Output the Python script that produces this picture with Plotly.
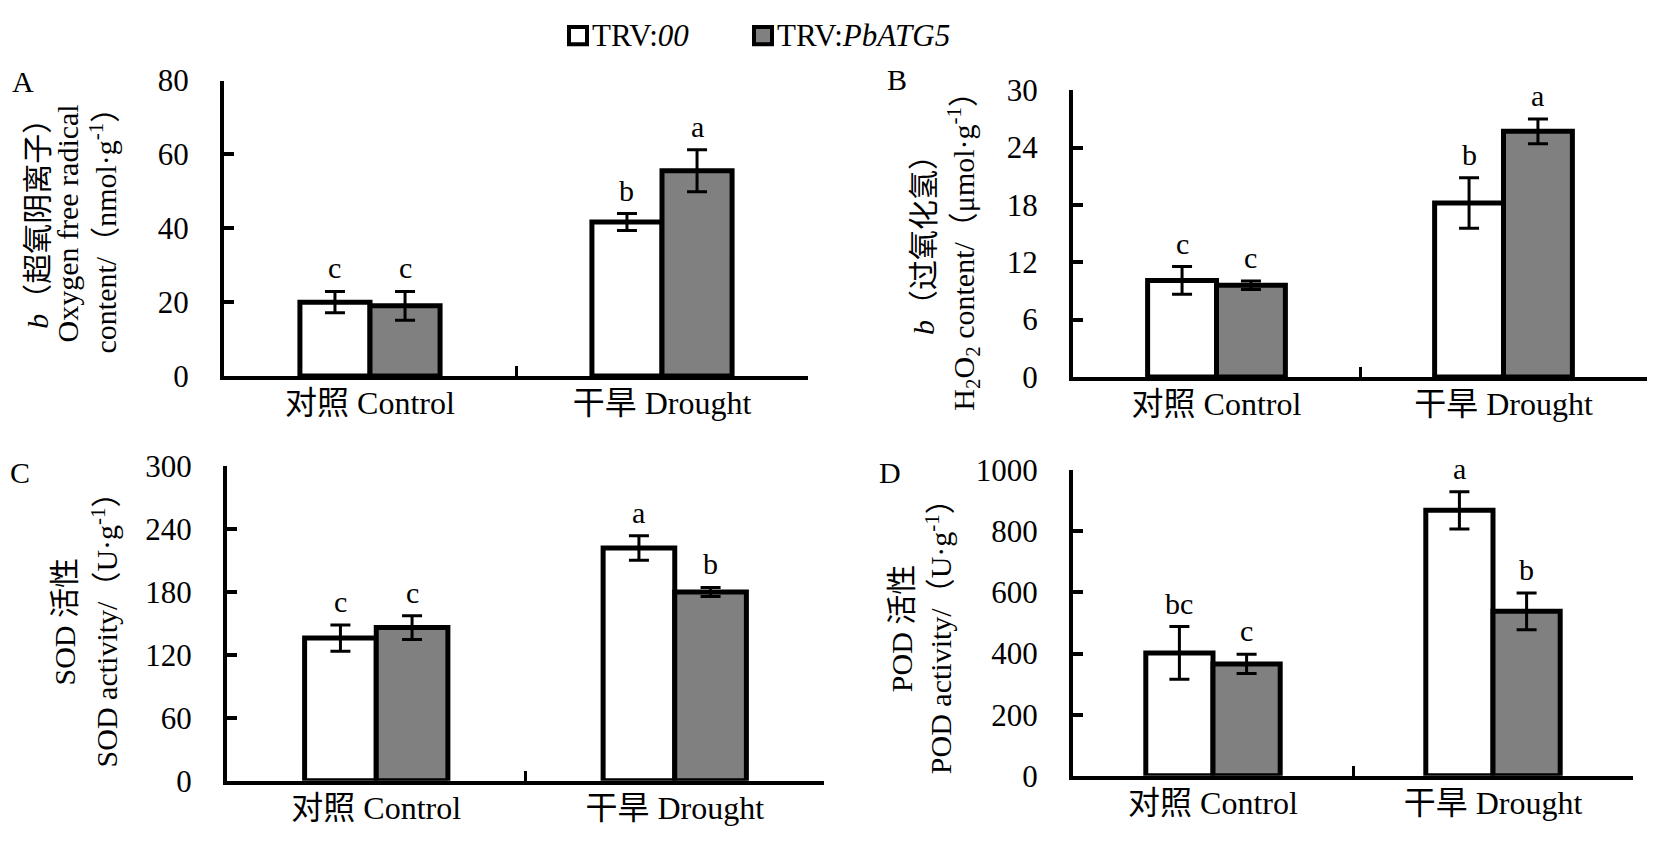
import plotly.graph_objects as go

# categorii si valori (medie +/- eroare)
categories = ["对照 Control", "干旱 Drought"]
series_names = ["TRV:<i>00</i>", "TRV:<i>PbATG5</i>"]

# A - anion superoxid (nmol/g)
a_trv00 = [20.0, 41.7]
a_trv00_err = [2.9, 2.3]
a_atg5 = [19.0, 55.6]
a_atg5_err = [3.9, 5.7]
a_let_trv00 = ["c", "b"]
a_let_atg5 = ["c", "a"]

# B - H2O2 (umol/g)
b_trv00 = [10.1, 18.2]
b_trv00_err = [1.45, 2.65]
b_atg5 = [9.6, 25.7]
b_atg5_err = [0.45, 1.3]
b_let_trv00 = ["c", "b"]
b_let_atg5 = ["c", "a"]

# C - SOD (U/g)
c_trv00 = [136, 222]
c_trv00_err = [12.5, 11.7]
c_atg5 = [146, 180]
c_atg5_err = [11.3, 4.3]
c_let_trv00 = ["c", "a"]
c_let_atg5 = ["c", "b"]

# D - POD (U/g)
d_trv00 = [402, 868]
d_trv00_err = [86, 61]
d_atg5 = [366, 538]
d_atg5_err = [31.5, 60]
d_let_trv00 = ["bc", "a"]
d_let_atg5 = ["c", "b"]

FONT = "Liberation Serif, Noto Sans CJK SC, serif"
W, H = 1657, 853
OFF = 8  # marginea body din pagina html
COLORS = ["white", "#808080"]


def px(x):
    return (x - OFF) / W


def py(y):
    return 1 - (y - OFF) / H


panels = [
    # (sufix axa, date, range y, pas, domeniu x px, domeniu y px)
    ("", a_trv00, a_trv00_err, a_atg5, a_atg5_err, a_let_trv00, a_let_atg5, 80, 20, (224, 808), (66, 374)),
    ("2", b_trv00, b_trv00_err, b_atg5, b_atg5_err, b_let_trv00, b_let_atg5, 30, 6, (1073, 1647), (76, 375)),
    ("3", c_trv00, c_trv00_err, c_atg5, c_atg5_err, c_let_trv00, c_let_atg5, 300, 60, (227, 824), (468, 796)),
    ("4", d_trv00, d_trv00_err, d_atg5, d_atg5_err, d_let_trv00, d_let_atg5, 1000, 200, (1073, 1633), (472, 791)),
]

fig = go.Figure()
annotations = []
shapes = []
layout = {}

for k, (s, v1, e1, v2, e2, l1, l2, ymax, dt, xd, yd) in enumerate(panels):
    xa, ya = "x" + s, "y" + s
    for name, col, v, e in ((series_names[0], COLORS[0], v1, e1), (series_names[1], COLORS[1], v2, e2)):
        fig.add_trace(go.Bar(
            x=categories, y=v, name=name, xaxis=xa, yaxis=ya,
            marker=dict(color=col, line=dict(color="black", width=5)),
            error_y=dict(type="data", array=e, color="black", thickness=3, width=10),
            showlegend=False,
        ))
    layout["xaxis" + s] = dict(
        domain=[px(xd[0]), px(xd[1])], anchor=ya, type="category",
        categoryorder="array", categoryarray=categories,
        showline=True, linewidth=4, linecolor="black",
        ticks="inside", tickson="boundaries", ticklen=10, tickwidth=3, tickcolor="black",
        showgrid=False, zeroline=False, ticklabelstandoff=-4,
        tickfont=dict(family=FONT, size=32, color="black"),
    )
    layout["yaxis" + s] = dict(
        domain=[py(yd[1]), py(yd[0])], anchor=xa,
        range=[0, ymax], dtick=dt, tick0=0,
        showline=True, linewidth=4, linecolor="black",
        ticks="inside", ticklen=10, tickwidth=4, tickcolor="black",
        showgrid=False, zeroline=False, ticklabelstandoff=25,
        tickfont=dict(family=FONT, size=31, color="black"),
    )
    # literele de semnificatie deasupra barelor de eroare
    for i in range(2):
        for off, v, e, l in ((-0.12, v1, e1, l1), (0.12, v2, e2, l2)):
            annotations.append(dict(
                x=i + off, y=v[i] + e[i], xref=xa, yref=ya, text=l[i],
                showarrow=False, yanchor="bottom", yshift=5,
                font=dict(family=FONT, size=30, color="black"),
            ))

# legenda facuta de mana (patrate + text) sus, la mijloc
for name, col, x0 in ((series_names[0], COLORS[0], 569), (series_names[1], COLORS[1], 754)):
    shapes.append(dict(
        type="rect", xref="paper", yref="paper",
        x0=px(x0), x1=px(x0 + 18), y0=py(28), y1=py(10),
        fillcolor=col, line=dict(color="black", width=4),
    ))
    annotations.append(dict(
        x=px(x0 + 21), y=py(19), xref="paper", yref="paper", text=name,
        showarrow=False, xanchor="left", yanchor="middle",
        font=dict(family=FONT, size=31, color="black"),
    ))

# etichete panouri
for lab, lx, ly in (("A", 23, 67), ("B", 897, 65), ("C", 20, 475), ("D", 890, 475)):
    annotations.append(dict(
        x=px(lx), y=py(ly), xref="paper", yref="paper", text=lab,
        showarrow=False, xanchor="center", yanchor="middle",
        font=dict(family=FONT, size=30, color="black"),
    ))

# titluri axe y (rotite)
ytitles = [
    ("<i>b</i>（超氧阴离子）", 38, 208),
    ("Oxygen free radical", 68, 215),
    ("content/（nmol·g<sup>-1</sup>）", 103, 215),
    ("<i>b</i>（过氧化氢）", 924, 230),
    ("H<sub>2</sub>O<sub>2</sub> content/（μmol·g<sup>-1</sup>）", 964, 236),
    ("SOD 活性", 64, 630),
    ("SOD activity/（U·g<sup>-1</sup>）", 105, 631),
    ("POD 活性", 901, 637),
    ("POD activity/（U·g<sup>-1</sup>）", 939, 638),
]
for txt, tx, ty in ytitles:
    annotations.append(dict(
        x=px(tx), y=py(ty), xref="paper", yref="paper", text=txt,
        showarrow=False, textangle=-90, xanchor="center", yanchor="middle",
        font=dict(family=FONT, size=30, color="black"),
    ))

fig.update_layout(
    width=W, height=H,
    margin=dict(l=0, r=0, t=0, b=0),
    paper_bgcolor="white", plot_bgcolor="white",
    barmode="group", bargap=0.52, bargroupgap=0,
    showlegend=False,
    annotations=annotations,
    shapes=shapes,
    **layout,
)

fig.write_html("out.html")
